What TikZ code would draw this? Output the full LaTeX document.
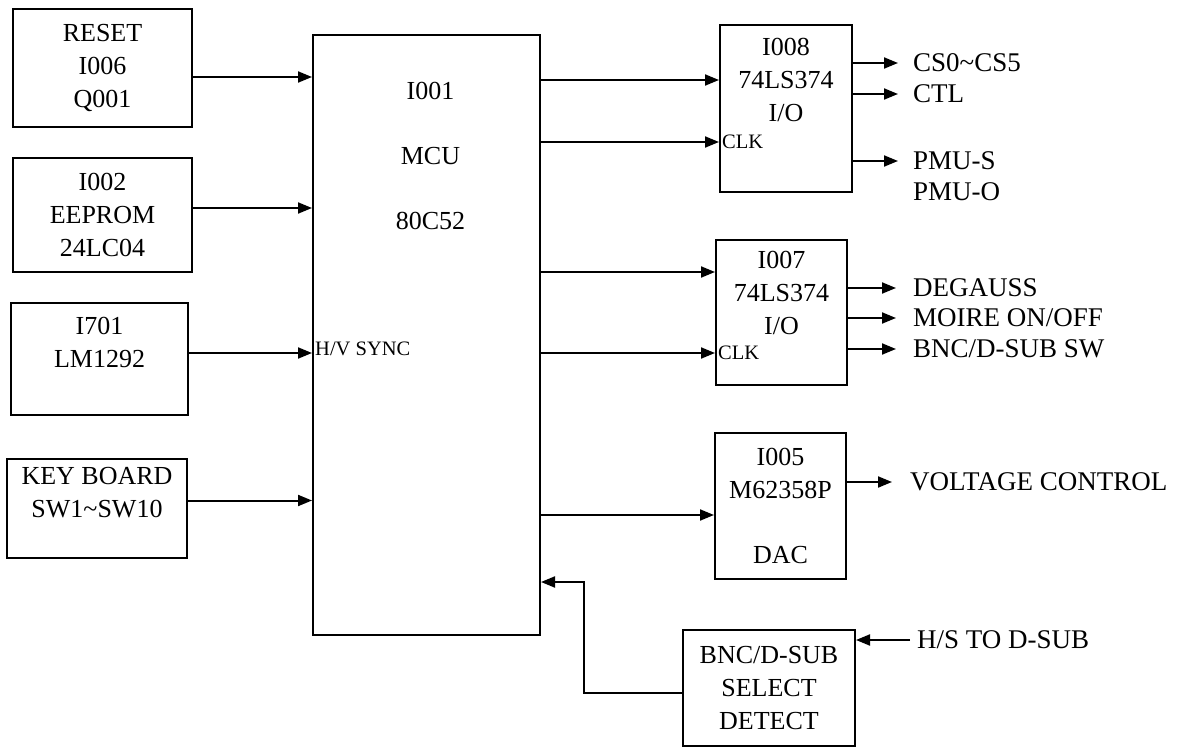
\documentclass[tikz,border=0pt]{standalone}
\usepackage{fontspec}
\setmainfont{Liberation Serif}
\usetikzlibrary{arrows.meta}

\begin{document}
\begin{tikzpicture}[x=1pt, y=-1pt,
    block/.style={draw, line width=2pt, align=center, inner sep=0pt, font=\fontsize{26}{33}\selectfont},
    sig/.style={line width=2pt, -{Triangle[length=14pt,width=11pt]}},
    lbl/.style={anchor=west, inner sep=0pt, font=\fontsize{27}{33}\selectfont},
    pin/.style={anchor=west, inner sep=0pt, font=\fontsize{20.5}{24}\selectfont}]

    \useasboundingbox (0,0) rectangle (1179,749);

    % Draw input blocks
    \node[block, minimum width=179pt, minimum height=118pt] (reset) at (102.5,68) {RESET\\I006\\Q001};
    \node[block, minimum width=179pt, minimum height=114pt] (eeprom) at (102.5,215) {I002\\EEPROM\\24LC04};
    \node[block, minimum width=177pt, minimum height=112pt] (sync) at (99.5,359) {I701\\LM1292\\\mbox{}};
    \node[block, minimum width=180pt, minimum height=99pt] (keys) at (97,508.5) {KEY BOARD\\SW1\textasciitilde SW10\\\mbox{}};

    % Draw the MCU
    \node[block, minimum width=227pt, minimum height=600pt] (mcu) at (426.5,335) {};
    \node[anchor=north, align=center, inner sep=0pt, font=\fontsize{26}{33}\selectfont] (mcuText)
        at ([xshift=4pt, yshift=-48pt]mcu.north) {I001\\[32pt]MCU\\[32pt]80C52};

    % Draw output blocks
    \node[block, minimum width=132pt, minimum height=167pt] (latchA) at (786,108.5) {I008\\74LS374\\I/O\\[24pt]\mbox{}};
    \node[block, minimum width=131pt, minimum height=145pt] (latchB) at (781.5,312.5) {I007\\74LS374\\I/O\\[6pt]\mbox{}};
    \node[block, minimum width=131pt, minimum height=146pt] (dac) at (780.5,506) {I005\\M62358P\\[32pt]DAC};
    \node[block, minimum width=172pt, minimum height=116pt] (detect) at (769,688) {BNC/D-SUB\\SELECT\\DETECT};

    % Inputs into the MCU
    \coordinate (resetOut) at ([yshift=-9pt]reset.east);
    \coordinate (eepromOut) at ([yshift=7pt]eeprom.east);
    \coordinate (syncOut) at ([yshift=6pt]sync.east);
    \coordinate (keysOut) at ([yshift=8pt]keys.east);
    \draw[sig] (resetOut) -- (resetOut -| mcu.west);
    \draw[sig] (eepromOut) -- (eepromOut -| mcu.west);
    \draw[sig] (syncOut) -- (syncOut -| mcu.west) coordinate (syncEnd);
    \draw[sig] (keysOut) -- (keysOut -| mcu.west);
    \node[pin] (hvSync) at ([xshift=3pt, yshift=4pt]syncEnd) {H/V SYNC};

    % MCU to the latches and the DAC
    \coordinate (latchAData) at ([yshift=28.5pt]latchA.west);
    \coordinate (latchAClk) at ([yshift=-33.5pt]latchA.west);
    \coordinate (latchBData) at ([yshift=40.5pt]latchB.west);
    \coordinate (latchBClk) at ([yshift=-40.5pt]latchB.west);
    \coordinate (dacIn) at ([yshift=-9pt]dac.west);
    \draw[sig] (latchAData -| mcu.east) -- (latchAData);
    \draw[sig] (latchAClk -| mcu.east) -- (latchAClk);
    \draw[sig] (latchBData -| mcu.east) -- (latchBData);
    \draw[sig] (latchBClk -| mcu.east) -- (latchBClk);
    \draw[sig] (dacIn -| mcu.east) -- (dacIn);
    \node[pin] (clkA) at ([xshift=3pt]latchAClk) {CLK};
    \node[pin] (clkB) at ([xshift=3pt]latchBClk) {CLK};

    % Output signals
    \node[lbl] (chipSel) at (913,63) {CS0\textasciitilde CS5};
    \node[lbl] (ctl) at (913,94) {CTL};
    \node[lbl] (pmuS) at (913,161) {PMU-S};
    \node[lbl] (pmuO) at (913,192) {PMU-O};
    \node[lbl] (degauss) at (913,288) {DEGAUSS};
    \node[lbl] (moire) at (913,318) {MOIRE ON/OFF};
    \node[lbl] (bncSw) at (913,349) {BNC/D-SUB SW};
    \node[lbl] (volt) at (910,482) {VOLTAGE CONTROL};
    \node[lbl] (hsIn) at (917,640) {H/S TO D-SUB};

    \foreach \sig in {chipSel, ctl, pmuS}
        \draw[sig, shorten >=15pt] (\sig.west -| latchA.east) -- (\sig.west);
    \foreach \sig in {degauss, moire, bncSw}
        \draw[sig, shorten >=17pt] (\sig.west -| latchB.east) -- (\sig.west);
    \draw[sig, shorten >=18pt] (volt.west -| dac.east) -- (volt.west);

    % Select detect loop back to the MCU
    \draw[sig] ([xshift=-7pt]hsIn.west) -- (hsIn.west -| detect.east);
    \coordinate (detectOut) at ([yshift=-5pt]detect.west);
    \coordinate (mcuSel) at ([yshift=-247pt]mcu.east);
    \draw[sig] (detectOut) -- ++(-98,0) |- (mcuSel);

\end{tikzpicture}
\end{document}
